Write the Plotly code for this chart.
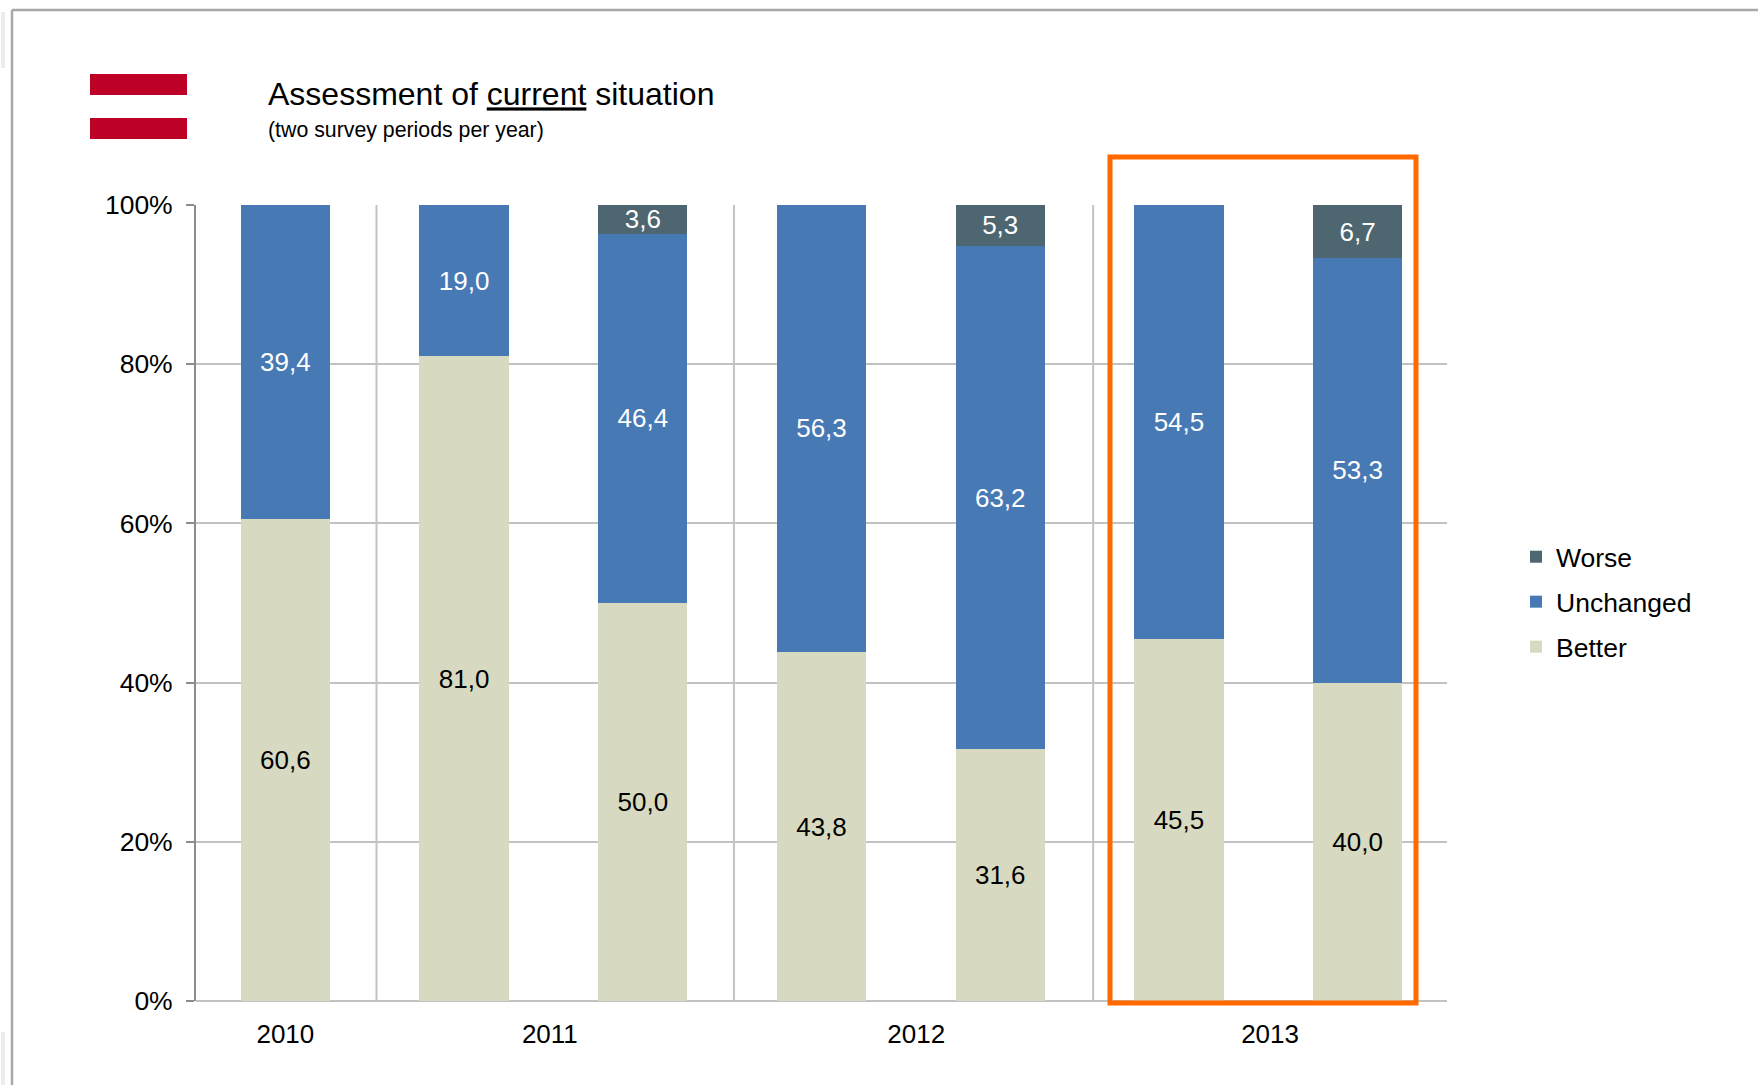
import plotly.graph_objects as go

W, H = 1758, 1085
L, R, T, B = 196, 1447, 205, 1001

series_names = ["Better", "Unchanged", "Worse"]
better = [60.6, 81.0, 50.0, 43.8, 31.6, 45.5, 40.0]
unchanged = [39.4, 19.0, 46.4, 56.3, 63.2, 54.5, 53.3]
worse = [None, None, 3.6, None, 5.3, None, 6.7]
periods = [0, 1, 2, 3, 4, 5, 6]
year_labels = ["2010", "2011", "2012", "2013"]
year_positions = [0.0, 1.48, 3.53, 5.51]
separators = [0.51, 2.51, 4.52]
y_ticks = [0, 20, 40, 60, 80, 100]
y_tick_labels = ["0%", "20%", "40%", "60%", "80%", "100%"]

COL_BETTER, COL_UNCH, COL_WORSE = "#d7dac1", "#4779b4", "#4d6670"
GRID = "#c2c2c2"
FONT = "Liberation Sans"


def px(x):
    return (x - L) / (R - L)


def py(y):
    return (B - y) / (B - T)


def paper_rect(x0, y0, x1, y1, **kw):
    return dict(type="rect", xref="paper", yref="paper",
                x0=px(x0), x1=px(x1), y0=py(y0), y1=py(y1), **kw)


fig = go.Figure()
for name, vals, col, tcol, rank in [
    ("Better", better, COL_BETTER, "#000000", 3),
    ("Unchanged", unchanged, COL_UNCH, "#ffffff", 2),
    ("Worse", worse, COL_WORSE, "#ffffff", 1),
]:
    fig.add_bar(
        x=periods, y=vals, name=name, width=0.5, legendgroup=name, legendrank=rank,
        marker=dict(color=col, line=dict(width=0)),
        texttemplate="%{y:.1f}", textposition="inside", textangle=0,
        insidetextanchor="middle", constraintext="none",
        textfont=dict(family=FONT, size=26, color=tcol),
    )

shapes = []
for s in separators:
    shapes.append(dict(type="line", xref="x", yref="y", x0=s, x1=s, y0=0, y1=100,
                       layer="below", line=dict(color=GRID, width=2)))
# flag
shapes.append(paper_rect(90, 74, 187, 95, fillcolor="#bd0026", line_width=0, layer="above"))
shapes.append(paper_rect(90, 118, 187, 139, fillcolor="#bd0026", line_width=0, layer="above"))
# highlight box
shapes.append(paper_rect(1110, 157, 1416, 1003, fillcolor="rgba(0,0,0,0)", layer="above",
                         line=dict(color="#ff6a00", width=5)))
# page frame
shapes.append(dict(type="line", xref="paper", yref="paper", x0=px(12), x1=px(12), y0=py(10), y1=py(1085),
                   line=dict(color="#a8a8a8", width=2.5), layer="above"))
shapes.append(dict(type="line", xref="paper", yref="paper", x0=px(12), x1=px(1758), y0=py(10), y1=py(10),
                   line=dict(color="#a8a8a8", width=2.5), layer="above"))
shapes.append(dict(type="line", xref="paper", yref="paper", x0=px(3), x1=px(3), y0=py(12), y1=py(68),
                   line=dict(color="#ececec", width=4), layer="above"))
shapes.append(dict(type="line", xref="paper", yref="paper", x0=px(3), x1=px(3), y0=py(1032), y1=py(1085),
                   line=dict(color="#ececec", width=4), layer="above"))

fig.update_layout(
    width=W, height=H, barmode="stack", separators=",.",
    margin=dict(l=L, r=W - R, t=T, b=H - B, autoexpand=False),
    paper_bgcolor="white", plot_bgcolor="white",
    font=dict(family=FONT, size=26, color="#000000"),
    title=dict(
        text="Assessment of <u>current</u> situation",
        font=dict(family=FONT, size=32, color="#000000"),
        x=268 / W, xanchor="left", xref="container",
        y=1 - 83 / H, yanchor="top", yref="container",
    ),
    annotations=[dict(
        text="(two survey periods per year)", xref="paper", yref="paper",
        x=px(268), y=py(130), xanchor="left", yanchor="middle", showarrow=False,
        xshift=-2, font=dict(family=FONT, size=21.3, color="#000000"),
    )],
    legend=dict(
        x=px(1516), y=py(533), xanchor="left", yanchor="top",
        traceorder="grouped", tracegroupgap=7.5,
        font=dict(family=FONT, size=26.5, color="#000000"),
        bgcolor="rgba(0,0,0,0)",
    ),
    xaxis=dict(
        range=[-0.5, 6.5], tickmode="array", tickvals=year_positions, ticktext=year_labels,
        ticks="", showgrid=False, zeroline=False, showline=False,
        tickfont=dict(family=FONT, size=26), ticklabelstandoff=15,
    ),
    yaxis=dict(
        range=[0, 100], tickmode="array", tickvals=y_ticks, ticktext=y_tick_labels,
        showgrid=True, gridcolor=GRID, gridwidth=2, zeroline=True, zerolinecolor=GRID, zerolinewidth=2,
        showline=True, linecolor="#8c8c8c", linewidth=2,
        ticks="outside", ticklen=8, tickcolor="#8c8c8c", tickwidth=2,
        tickfont=dict(family=FONT, size=26.5), ticklabelstandoff=8,
    ),
    shapes=shapes,
)

fig.write_html("out.html", config={"displayModeBar": False},
               post_script="document.body.style.margin='0';document.body.style.overflow='hidden';")
